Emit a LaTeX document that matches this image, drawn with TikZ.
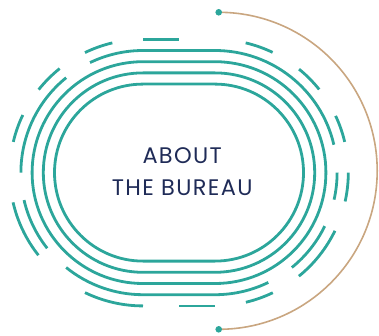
\documentclass[tikz,border=0pt]{standalone}
\usepackage{fontspec}
\setmainfont{Poppins}[LetterSpace=6]
\usetikzlibrary{calc}
\definecolor{ringteal}{HTML}{2CA69B}
\definecolor{arctan}{HTML}{C9A680}
\definecolor{navytext}{HTML}{1F2B57}
\begin{document}
\begin{tikzpicture}[x=1pt,y=1pt,
  ring/.style={draw=ringteal, line width=2.8pt},
  tanline/.style={draw=arctan, line width=1.6pt},
  enddot/.style={circle, fill=ringteal, inner sep=0pt, minimum size=6.6pt},
  label/.style={text=navytext, font=\fontsize{22.5}{27}\selectfont, inner sep=0pt, anchor=base}]
\useasboundingbox (0,0) rectangle (379,335);
\def\cy{162.4}
\coordinate (L) at (143,\cy);
\coordinate (R) at (215,\cy);
% full rings
\foreach \r in {88.5,99.7,110.9}
  \draw[ring] (143,\cy+\r) -- (215,\cy+\r) arc[start angle=90,end angle=-90,radius=\r]
    -- (143,\cy-\r) arc[start angle=270,end angle=90,radius=\r] -- cycle;
% ring 4 with gaps
\def\rd{122.1}
\draw[ring] ($(L)+(115.7:\rd)$) arc[start angle=115.7,end angle=90,radius=\rd] -- ++(72,0)
  arc[start angle=90,end angle=13.2,radius=\rd];
\draw[ring] ($(R)+(0:\rd)$) arc[start angle=0,end angle=-12.8,radius=\rd];
\draw[ring] ($(R)+(-26:\rd)$) arc[start angle=-26,end angle=-51,radius=\rd];
\draw[ring] ($(R)+(-64.1:\rd)$) arc[start angle=-64.1,end angle=-90,radius=\rd] -- ++(-72,0)
  arc[start angle=270,end angle=231,radius=\rd];
\draw[ring] ($(L)+(218.3:\rd)$) arc[start angle=218.3,end angle=193,radius=\rd];
\draw[ring] ($(L)+(180:\rd)$) arc[start angle=180,end angle=129,radius=\rd];
% ring 5 dashes
\def\re{133.3}
\draw[ring] ($(L)+(0,\re)$) -- ++(36,0);
\draw[ring] ($(L)+(36,-\re)$) -- ++(36,0);
\foreach \a/\b in {103.3/115.8,128.7/141.5,154.4/166.7,192.9/218.3,244.2/270}
  \draw[ring] ($(L)+(\a:\re)$) arc[start angle=\a,end angle=\b,radius=\re];
\foreach \a/\b in {-76.6/-64.3,-51/-25.9,-12.5/0,13.3/25.2,38.6/50.9,64.4/76.7}
  \draw[ring] ($(R)+(\a:\re)$) arc[start angle=\a,end angle=\b,radius=\re];
% tan arc with end dots
\coordinate (ctop) at (218.7,322.7);
\coordinate (cbot) at (218.7,5.7);
\draw[tanline] (ctop) arc[start angle=90,end angle=-90,radius=158.5];
\node[enddot] (dtop) at (ctop) {};
\node[enddot] (dbot) at (cbot) {};
% text
\node[label] (about) at (182.2,172) {ABOUT};
\node[label] (bureau) at (182.2,140) {THE BUREAU};
\end{tikzpicture}
\end{document}
